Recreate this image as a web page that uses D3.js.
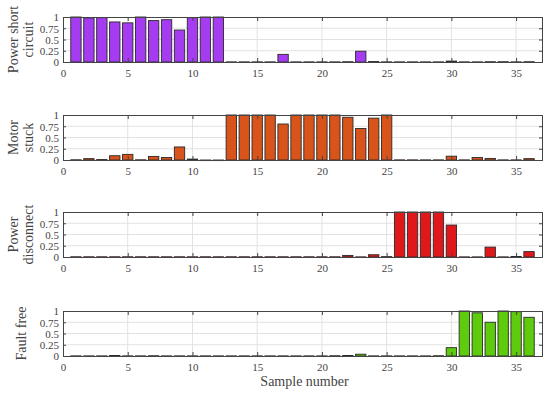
<!DOCTYPE html>
<html>
<head>
<meta charset="utf-8">
<script src="https://cdn.jsdelivr.net/npm/d3@7"></script>
<style>
  body { margin:0; background:#fff; }
  svg text { font-family:"Liberation Serif","Times New Roman",serif; fill:#444; }
</style>
</head>
<body>
<svg id="chart" width="550" height="394"></svg>
<script>
// --- data ------------------------------------------------------------------
const samples = d3.range(1, 37);   // sample 1..36

const shortCircuit = [1,0.98,0.985,0.89,0.87,1,0.92,0.94,0.71,0.985,1,1,
  0.003,0.003,0.003,0.003,0.17,0.003,0.003,0.003,0.003,0.006,0.24,0.01,
  0.003,0.003,0.003,0.003,0.003,0.02,0.003,0.003,0.006,0.006,0.003,0.006];

const motorStuck = [0.005,0.03,0.01,0.095,0.125,0.005,0.08,0.055,0.29,0.02,0,0,
  1,1,1,1,0.8,1,1,1,1,0.95,0.7,0.93,1,
  0.003,0.003,0.003,0.003,0.085,0.003,0.055,0.035,0.003,0.003,0.03];

const powerDisconnect = [0.005,0.005,0.005,0.005,0.005,0.005,0.005,0.005,0.005,0.005,0.005,0.005,
  0.005,0.005,0.005,0.005,0.005,0.005,0.005,0.005,0.005,0.035,0.003,0.05,0.008,
  1,1,1,1,0.71,0.003,0.003,0.22,0.003,0.01,0.12];

const faultFree = [0.003,0.003,0.003,0.012,0.003,0.003,0.006,0.003,0.003,0.003,0.003,0.003,
  0.003,0.003,0.003,0.003,0.003,0.003,0.003,0.003,0.006,0.01,0.04,0.003,0.003,
  0.003,0.003,0.003,0.006,0.185,1,0.96,0.75,1,0.985,0.86];

const panels = [
  {label:['Power short','circuit'], values:shortCircuit,    color:'#a63cf2'},
  {label:['Motor','stuck'],         values:motorStuck,      color:'#d9541a'},
  {label:['Power','disconnect'],    values:powerDisconnect, color:'#e0181b'},
  {label:['Fault free'],            values:faultFree,       color:'#5ecb0c'}
];

const yTicks = [0, 0.25, 0.5, 0.75, 1];
const xTicks = [0, 5, 10, 15, 20, 25, 30, 35];

// --- layout ----------------------------------------------------------------
const svg = d3.select('#chart');
const left = 63, right = 542, plotH = 45;
const tops = [17, 115, 212, 311];

const x = d3.scaleLinear().domain([0, 37]).range([left, right]);
const barW = x(0.8) - x(0);

panels.forEach((p, i) => {
  const top = tops[i], bottom = top + plotH;
  const y = d3.scaleLinear().domain([0, 1]).range([bottom, top]);
  const g = svg.append('g');

  // grid
  g.selectAll('.gx').data(xTicks.slice(1)).join('line')
    .attr('x1', d => x(d)).attr('x2', d => x(d))
    .attr('y1', top).attr('y2', bottom)
    .attr('stroke', '#e2e2e2').attr('stroke-width', 1);
  g.selectAll('.gy').data(yTicks.slice(1, -1)).join('line')
    .attr('x1', left).attr('x2', right)
    .attr('y1', d => y(d)).attr('y2', d => y(d))
    .attr('stroke', '#e2e2e2').attr('stroke-width', 1);

  // bars
  g.selectAll('rect.bar').data(samples).join('rect')
    .attr('class', 'bar')
    .attr('x', d => x(d) - barW / 2)
    .attr('width', barW)
    .attr('y', d => y(p.values[d - 1]))
    .attr('height', d => Math.max(0.6, bottom - y(p.values[d - 1])))
    .attr('fill', p.color)
    .attr('stroke', '#2a2a2a').attr('stroke-width', 0.9);

  // axes
  const ax = g.append('g').attr('transform', `translate(0,${bottom})`)
    .call(d3.axisBottom(x).tickValues(xTicks).tickSize(-4).tickPadding(7));
  const axTop = g.append('g').attr('transform', `translate(0,${top})`)
    .call(d3.axisTop(x).tickValues(xTicks).tickSize(-4).tickFormat(''));
  const ay = g.append('g').attr('transform', `translate(${left},0)`)
    .call(d3.axisLeft(y).tickValues(yTicks).tickSize(-3).tickPadding(4)
      .tickFormat(d3.format('')));
  const ayR = g.append('g').attr('transform', `translate(${right},0)`)
    .call(d3.axisRight(y).tickValues(yTicks).tickSize(-3).tickFormat(''));

  [ax, axTop, ay, ayR].forEach(a => {
    a.select('.domain').attr('stroke', '#444');
    a.selectAll('.tick line').attr('stroke', '#444');
    a.selectAll('text').attr('font-size', 11)
      .attr('font-family', '"Liberation Serif",serif').attr('fill', '#444');
  });
  ay.selectAll('text').attr('dy', '0.35em');

  // y label
  const lab = g.append('text')
    .attr('transform', `translate(${p.label.length > 1 ? 13 : 21},${top + plotH / 2}) rotate(-90)`)
    .attr('text-anchor', 'middle')
    .attr('font-size', 14);
  p.label.forEach((t, k) => {
    lab.append('tspan').attr('x', 0).attr('dy', k === 0 ? '0.35em' : '1.05em').text(t);
  });
});

svg.append('text')
  .attr('x', (left + right) / 2 + 2).attr('y', 386)
  .attr('text-anchor', 'middle').attr('font-size', 14)
  .text('Sample number');
</script>
</body>
</html>
